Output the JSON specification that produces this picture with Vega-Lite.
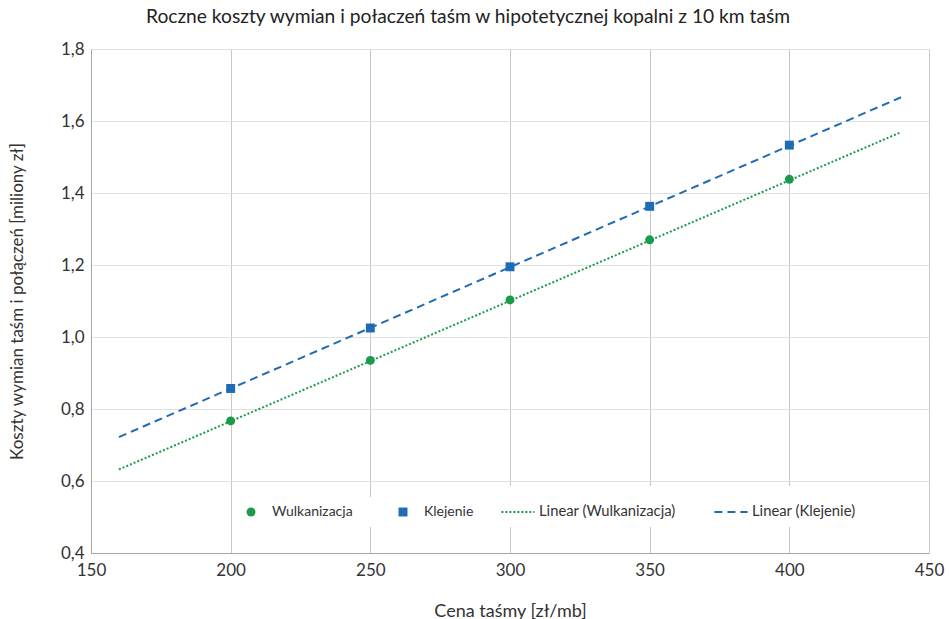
{
  "$schema": "https://vega.github.io/schema/vega-lite/v6.json",
  "width": 838,
  "height": 504,
  "autosize": "none",
  "padding": {"left": 91, "top": 49, "right": 20, "bottom": 66},
  "background": "white",
  "title": {
    "text": "Roczne koszty wymian i połaczeń taśm w hipotetycznej kopalni z 10 km taśm",
    "font": "Lato",
    "fontSize": 19.2,
    "fontWeight": "normal",
    "color": "#222222",
    "anchor": "middle",
    "dx": -42,
    "offset": 13
  },
  "config": {
    "view": {"stroke": null},
    "font": "Lato",
    "axis": {
      "labelFont": "Lato",
      "titleFont": "Lato",
      "labelFontSize": 17,
      "titleFontSize": 17,
      "titleFontWeight": "normal",
      "labelColor": "#333333",
      "titleColor": "#333333",
      "domainColor": "#a6a6a6",
      "ticks": false,
      "grid": true,
      "labelFlush": false,
      "labelOverlap": false
    },
    "legend": {
      "labelFont": "Lato",
      "labelFontSize": 14,
      "labelColor": "#333333"
    }
  },
  "datasets": {
    "points": [
      {"cena": 200, "koszt": 0.767, "series": "Wulkanizacja"},
      {"cena": 250, "koszt": 0.935, "series": "Wulkanizacja"},
      {"cena": 300, "koszt": 1.103, "series": "Wulkanizacja"},
      {"cena": 350, "koszt": 1.270, "series": "Wulkanizacja"},
      {"cena": 400, "koszt": 1.438, "series": "Wulkanizacja"},
      {"cena": 200, "koszt": 0.857, "series": "Klejenie"},
      {"cena": 250, "koszt": 1.025, "series": "Klejenie"},
      {"cena": 300, "koszt": 1.195, "series": "Klejenie"},
      {"cena": 350, "koszt": 1.363, "series": "Klejenie"},
      {"cena": 400, "koszt": 1.533, "series": "Klejenie"}
    ],
    "trends": [
      {"cena": 160, "koszt": 0.632, "trend": "Linear (Wulkanizacja)"},
      {"cena": 440, "koszt": 1.569, "trend": "Linear (Wulkanizacja)"},
      {"cena": 160, "koszt": 0.722, "trend": "Linear (Klejenie)"},
      {"cena": 440, "koszt": 1.666, "trend": "Linear (Klejenie)"}
    ]
  },
  "encoding": {
    "x": {
      "field": "cena",
      "type": "quantitative",
      "scale": {"domain": [150, 450], "nice": false, "zero": false},
      "axis": {
        "title": "Cena taśmy [zł/mb]",
        "titleFontSize": 18,
        "values": [150, 200, 250, 300, 350, 400, 450],
        "gridColor": "#c8c8c8",
        "labelPadding": 9,
        "titleY": 49
      }
    },
    "y": {
      "field": "koszt",
      "type": "quantitative",
      "scale": {"domain": [0.4, 1.8], "nice": false, "zero": false},
      "axis": {
        "title": "Koszty wymian taśm i połączeń [miliony zł]",
        "values": [0.4, 0.6, 0.8, 1.0, 1.2, 1.4, 1.6, 1.8],
        "labelExpr": "replace(format(datum.value, '.1f'), '.', ',')",
        "gridColor": "#e0e0e0",
        "labelPadding": 7,
        "titleX": -65
      }
    }
  },
  "layer": [
    {
      "data": {"name": "trends"},
      "mark": {"type": "line", "strokeWidth": 2},
      "encoding": {
        "color": {
          "field": "trend",
          "type": "nominal",
          "scale": {"domain": ["Linear (Wulkanizacja)", "Linear (Klejenie)"], "range": ["#1a9b4b", "#1f6bb5"]},
          "legend": {
            "title": null,
            "orient": "none",
            "direction": "horizontal",
            "legendX": 401,
            "legendY": 437,
            "fillColor": "white",
            "padding": 8,
            "columnPadding": 34,
            "symbolSize": 1100,
            "symbolStrokeWidth": 2,
            "labelOffset": 3,
            "labelFontSize": 14.8
          }
        },
        "strokeDash": {
          "field": "trend",
          "type": "nominal",
          "scale": {"domain": ["Linear (Wulkanizacja)", "Linear (Klejenie)"], "range": [[2, 2], [8, 5]]},
          "legend": {
            "title": null,
            "orient": "none",
            "direction": "horizontal",
            "legendX": 401,
            "legendY": 437,
            "fillColor": "white",
            "padding": 8,
            "columnPadding": 34,
            "symbolSize": 1100,
            "symbolStrokeWidth": 2,
            "labelOffset": 3,
            "labelFontSize": 14.8
          }
        }
      }
    },
    {
      "data": {"name": "points"},
      "mark": {"type": "point", "filled": true, "opacity": 1, "size": 80},
      "encoding": {
        "color": {
          "field": "series",
          "type": "nominal",
          "scale": {"domain": ["Wulkanizacja", "Klejenie"], "range": ["#1a9b4b", "#1f6bb5"]},
          "legend": {
            "title": null,
            "orient": "none",
            "direction": "horizontal",
            "legendX": 145,
            "legendY": 448,
            "fillColor": "white",
            "padding": 8,
            "columnPadding": 43,
            "symbolSize": 80,
            "labelOffset": 14
          }
        },
        "shape": {
          "field": "series",
          "type": "nominal",
          "scale": {"domain": ["Wulkanizacja", "Klejenie"], "range": ["circle", "square"]},
          "legend": {
            "title": null,
            "orient": "none",
            "direction": "horizontal",
            "legendX": 145,
            "legendY": 448,
            "fillColor": "white",
            "padding": 8,
            "columnPadding": 43,
            "symbolSize": 80,
            "labelOffset": 14
          }
        }
      }
    }
  ],
  "resolve": {"scale": {"color": "independent", "shape": "independent", "strokeDash": "independent"}}
}
